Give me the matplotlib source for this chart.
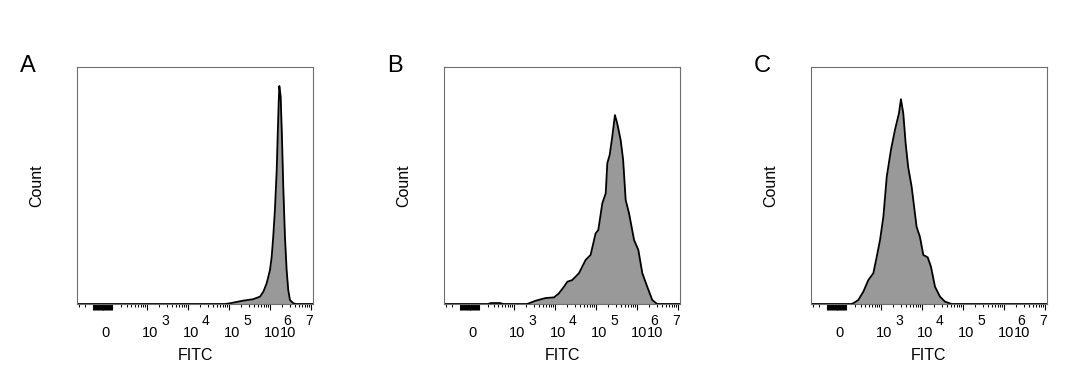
import numpy as np
import matplotlib
matplotlib.use("Agg")
import matplotlib.pyplot as plt
from matplotlib.transforms import offset_copy

plt.rcParams['font.family'] = ['Liberation Sans', 'DejaVu Sans']

# ---------------- data ----------------
panel_labels = ["A", "B", "C"]

fitc_a = [-347, 8.0e4, 1.06e5, 2.2e5, 3.85e5, 5.7e5, 6.9e5, 8.3e5, 1.0e6, 1.1e6, 1.2e6,
          1.32e6, 1.46e6, 1.54e6, 1.63e6, 1.69e6, 1.82e6, 1.96e6, 2.11e6, 2.32e6,
          2.55e6, 2.79e6, 3.07e6, 3.7e6, 4.3e6, 1.12e7]
count_a = [0, 0, 0.3, 1.4, 2.0, 3.1, 5.2, 8.7, 14.3, 19.8, 28.3,
           39.7, 56.5, 70.6, 84.7, 92.0, 87.8, 70.6, 49.5, 28.3,
           14.3, 5.9, 1.7, 0.3, 0, 0]

fitc_b = [-347, 200, 250, 450, 520, 2.1e3, 3.4e3, 5.9e3, 9.5e3, 1.25e4, 1.66e4, 2.0e4,
          2.64e4, 3.85e4, 5.6e4, 7.4e4, 9.8e4, 1.14e5, 1.43e5, 1.73e5, 1.89e5,
          2.16e5, 2.5e5, 2.9e5, 3.3e5, 4.0e5, 4.6e5, 5.3e5, 6.4e5, 8.5e5, 1.08e6,
          1.35e6, 1.78e6, 2.36e6, 3.1e6, 1.12e7]
count_b = [0, 0, 0.4, 0.4, 0, 0, 1.4, 2.5, 2.8, 4.5, 7.3, 9.4,
           10.1, 13.0, 18.6, 20.7, 29.8, 31.2, 42.5, 46.7, 59.4,
           62.9, 70.6, 79.7, 76.2, 69.2, 60.8, 43.9, 38.3, 27.0, 22.8,
           13.0, 7.3, 1.7, 0, 0]

fitc_c = [-347, 150, 178, 255, 353, 478, 642, 782, 943, 1.14e3, 1.38e3, 1.75e3,
          2.19e3, 2.75e3, 3.07e3, 3.5e3, 4.0e3, 4.6e3, 5.6e3, 7.4e3, 8.9e3,
          1.08e4, 1.38e4, 1.66e4, 2.08e4, 2.75e4, 3.64e4, 5.3e4, 1.12e7]
count_c = [0, 0, 0.3, 1.7, 5.2, 10.1, 13.0, 20.0, 27.0, 36.8, 53.7, 65.0,
           73.4, 80.5, 86.4, 80.5, 67.8, 57.9, 49.5, 32.6, 28.4,
           20.7, 19.7, 15.7, 7.3, 3.1, 1.0, 0, 0]

series = [(fitc_a, count_a), (fitc_b, count_b), (fitc_c, count_c)]

major_ticks = [0, 1e3, 1e4, 1e5, 1e6, 1e7]
tick_exponents = ["", "3", "4", "5", "6", "7"]
dense_ticks = list(range(-100, 91, 10))
minor_ticks = [-300, -200] + [m * 10 ** k for k in range(2, 7) for m in range(2, 10)]

# ---------------- figure ----------------
W, H = 1080, 385
fig = plt.figure(figsize=(W / 100, H / 100), dpi=100)

C = 170.0
fwd = lambda x: np.arcsinh(np.asarray(x) / C) / np.log(10)
inv = lambda p: C * np.sinh(np.asarray(p) * np.log(10))

lefts = [77, 444, 811]
ax_w, ax_top, ax_bot = 236, 67, 304
PX = 0.72  # points per pixel
txt_col = 'black'

for i, (lab, (xs, ys)) in enumerate(zip(panel_labels, series)):
    l = lefts[i]
    ax = fig.add_axes([l / W, 1 - ax_bot / H, ax_w / W, (ax_bot - ax_top) / H])
    ax.set_xscale('function', functions=(fwd, inv))
    ax.set_xlim(-347, 1.12e7)
    ax.set_ylim(0, 100)

    ax.fill_between(xs, ys, 0, color='#999999', linewidth=0)
    ax.plot(xs, ys, color='black', linewidth=1.3)

    for s in ax.spines.values():
        s.set_color('#6e6e6e')
        s.set_linewidth(0.8)

    ax.set_yticks([])
    ax.set_xticks(major_ticks + dense_ticks)
    ax.set_xticks(minor_ticks, minor=True)
    ax.set_xticklabels([])
    ax.xaxis.set_minor_formatter(plt.NullFormatter())
    ax.tick_params(axis='x', which='major', length=4.5, width=0.8, color='black', direction='out')
    ax.tick_params(axis='x', which='minor', length=2.2, width=0.75, color='black', direction='out')

    tr = ax.get_xaxis_transform()
    for t, e in zip(major_ticks, tick_exponents):
        if e == "":
            ax.text(t, 0, "0", transform=offset_copy(tr, fig=fig, x=2 * PX, y=-32.7 * PX, units='points'),
                    ha='center', va='baseline', fontsize=10.5, color=txt_col)
            continue
        if e == "7":
            dx_base, dx_sup = -23, -6
        elif e == "6":
            dx_base, dx_sup = 2, 13
        else:
            dx_base, dx_sup = 3, 14
        ax.text(t, 0, "10", transform=offset_copy(tr, fig=fig, x=dx_base * PX, y=-32.7 * PX, units='points'),
                ha='center', va='baseline', fontsize=10.5, color=txt_col)
        ax.text(t, 0, e, transform=offset_copy(tr, fig=fig, x=dx_sup * PX, y=-20.8 * PX, units='points'),
                ha='left', va='baseline', fontsize=10, color=txt_col)

    ax.text(0.5, 0, "FITC", transform=offset_copy(ax.transAxes, fig=fig, y=-56 * PX, units='points'),
            ha='center', va='baseline', fontsize=11.5, color=txt_col)
    ax.text(0, 0.5, "Count", transform=offset_copy(ax.transAxes, fig=fig, x=-33 * PX, units='points'),
            ha='right', va='center', rotation=90, fontsize=11.5, color=txt_col)
    fig.text((l - 57) / W, 1 - 72 / H, lab, ha='left', va='baseline', fontsize=17, color=txt_col)

fig.savefig("out.png", dpi=100)
